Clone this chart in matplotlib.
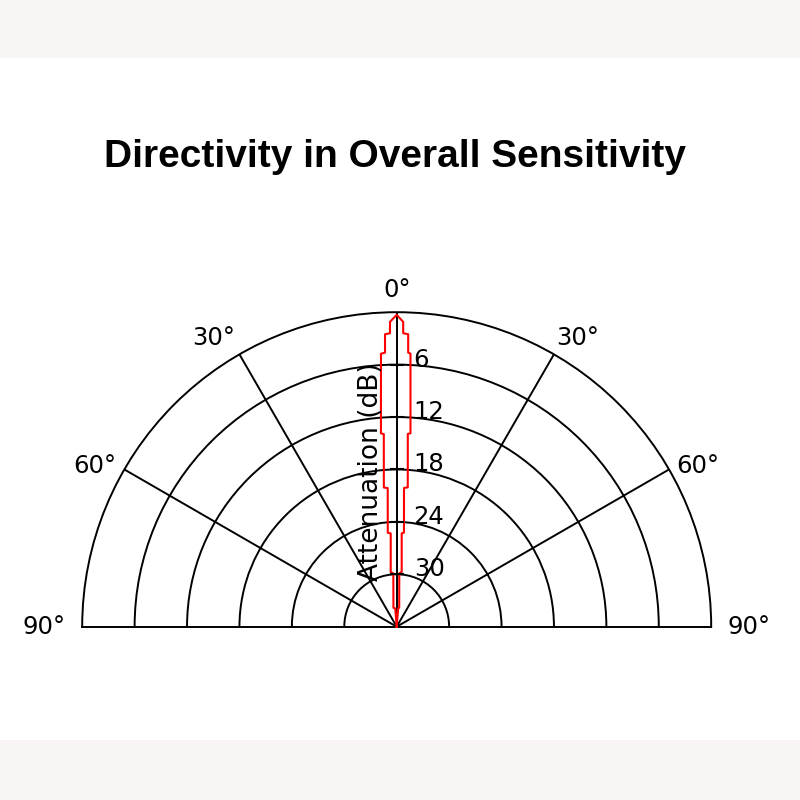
import numpy as np
import matplotlib
matplotlib.use("Agg")
import matplotlib.pyplot as plt
from matplotlib.patches import Rectangle

# ---- data ----
# outline of the directivity pattern: angle (deg, + = right) and attenuation (dB)
right_angle = [0.0, 1.22, 1.27, 2.25, 2.40, 2.89, 4.08, 3.30, 4.54, 3.01, 4.41, 3.06, 5.22, 2.77, 7.52, 4.59, 0.0]
right_atten = [0.3, 1.1, 2.4, 2.5, 4.6, 4.7, 13.8, 13.9, 20.0, 20.1, 25.2, 25.3, 29.7, 29.9, 33.8, 33.9, 36.0]
left_angle = [0.0, -1.26, -1.31, -2.29, -2.44, -3.30, -4.66, -3.83, -5.28, -3.71, -5.43, -3.66, -6.26, -3.62, -9.79, -4.59, 0.0]
left_atten = [0.3, 1.1, 2.4, 2.5, 4.6, 4.7, 13.8, 13.9, 20.0, 20.1, 25.2, 25.3, 29.7, 29.9, 33.8, 33.9, 36.0]

r_ticks = [6, 12, 18, 24, 30]
r_tick_labels = ["6", "12", "18", "24", "30"]
theta_ticks = [-90, -60, -30, 0, 30, 60, 90]
theta_tick_labels = ["90°", "60°", "30°", "0°", "30°", "60°", "90°"]
r_max = 36
title = "Directivity in Overall Sensitivity"
r_axis_label = "Attenuation (dB)"

# ---- figure ----
fig = plt.figure(figsize=(8, 8), dpi=100)
fig.patch.set_facecolor("white")
band_color = "#f9f5f5"
fig.add_artist(Rectangle((0, 1 - 58 / 800), 1, 58 / 800, transform=fig.transFigure,
                         facecolor=band_color, edgecolor="none", zorder=0))
fig.add_artist(Rectangle((0, 0), 1, 60 / 800, transform=fig.transFigure,
                         facecolor=band_color, edgecolor="none", zorder=0))

# square axes box; the half-disc wedge is fitted inside and centred vertically
ax = fig.add_axes([0.10275, 0.02006, 0.78625, 0.78625], projection="polar")
ax.patch.set_alpha(0)
ax.set_theta_zero_location("N")
ax.set_theta_direction(-1)
ax.set_thetamin(-90)
ax.set_thetamax(90)
ax.set_rlim(r_max, 0)

lw = 1.4
ax.set_rgrids(r_ticks, labels=[""] * len(r_ticks))
ax.set_thetagrids([-60, -30, 0, 30, 60], labels=[""] * 5)
ax.grid(True, color="black", linewidth=lw, linestyle="-")
for sp in ax.spines.values():
    sp.set_color("black")
    sp.set_linewidth(lw)
ax.tick_params(axis="both", length=0, pad=0)

# pattern outline
ang = np.deg2rad(np.array(left_angle[::-1] + right_angle))
att = np.array(left_atten[::-1] + right_atten)
ax.plot(ang, att, color="#ff0000", linewidth=1.5, zorder=5, clip_on=False)

# tick marks on the 0 deg axis
ax.plot(np.zeros(len(r_ticks)), r_ticks, linestyle="none", marker="_",
        markersize=10, markeredgewidth=1.5, color="black", zorder=6, clip_on=False)

fs = 17.5
for val, lab in zip(r_ticks, r_tick_labels):
    ax.annotate(lab, xy=(0, val), xytext=(17, 5), textcoords="offset pixels",
                ha="left", va="center", fontsize=fs, color="black",
                family="DejaVu Sans", zorder=7)

# theta labels
offsets = {-90: (-38, 0), -60: (-30, 3), -30: (-26, 16), 0: (0, 22),
           30: (24, 16), 60: (29, 3), 90: (38, 0)}
for th, lab in zip(theta_ticks, theta_tick_labels):
    dx, dy = offsets[th]
    ax.annotate(lab, xy=(np.deg2rad(th), 0), xytext=(dx, dy), textcoords="offset pixels",
                ha="center", va="center", fontsize=fs, color="black",
                family="DejaVu Sans", annotation_clip=False)

# radial axis label
fig.text(371 / 800, 1 - 472 / 800, r_axis_label, rotation=90, ha="center", va="center",
         fontsize=19, color="black", family="DejaVu Sans")

# title
fig.text(395 / 800, 1 - 157 / 800, title, ha="center", va="center",
         fontsize=28, fontweight="bold", color="black",
         family=["Liberation Sans", "DejaVu Sans"])

fig.savefig("out.png", dpi=100, facecolor=fig.get_facecolor())
